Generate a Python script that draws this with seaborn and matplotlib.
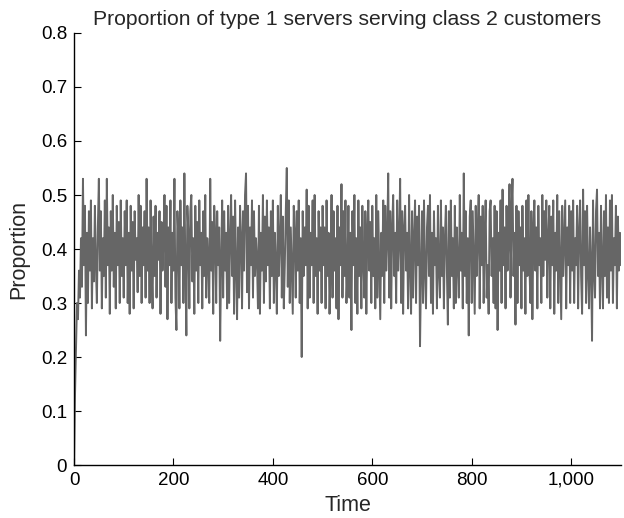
import numpy as np
import pandas as pd
import seaborn as sns
from matplotlib import pyplot as plt
from matplotlib.ticker import FuncFormatter, MultipleLocator

# proportion values, one every 2 time units (t = 0 .. 1100)
time_step = 2
proportion = [
    0.00, 0.13, 0.22, 0.30, 0.27, 0.36, 0.31, 0.42, 0.33, 0.53, 0.37, 0.48, 0.24, 0.43, 0.30, 0.47, 0.36, 0.49, 0.29, 0.42, 0.34, 0.48, 0.37, 0.30, 0.44,
    0.53, 0.36, 0.47, 0.29, 0.42, 0.35, 0.49, 0.31, 0.53, 0.37, 0.44, 0.28, 0.47, 0.36, 0.50, 0.33, 0.43, 0.29, 0.48, 0.37, 0.45, 0.30, 0.49, 0.35, 0.42,
    0.31, 0.47, 0.37, 0.49, 0.30, 0.43, 0.28, 0.48, 0.36, 0.45, 0.29, 0.47, 0.38, 0.42, 0.32, 0.50, 0.35, 0.48, 0.30, 0.44, 0.37, 0.47, 0.31, 0.53, 0.36,
    0.44, 0.30, 0.49, 0.37, 0.29, 0.46, 0.35, 0.48, 0.31, 0.43, 0.38, 0.47, 0.28, 0.45, 0.36, 0.42, 0.50, 0.33, 0.48, 0.27, 0.44, 0.37, 0.49, 0.30, 0.43,
    0.36, 0.53, 0.31, 0.25, 0.47, 0.42, 0.29, 0.49, 0.37, 0.44, 0.30, 0.54, 0.36, 0.24, 0.48, 0.43, 0.29, 0.47, 0.50, 0.34, 0.42, 0.28, 0.48, 0.36, 0.45,
    0.30, 0.49, 0.37, 0.43, 0.29, 0.47, 0.35, 0.50, 0.31, 0.42, 0.38, 0.30, 0.53, 0.36, 0.45, 0.28, 0.48, 0.43, 0.30, 0.47, 0.37, 0.44, 0.23, 0.38, 0.49,
    0.31, 0.47, 0.36, 0.43, 0.29, 0.48, 0.30, 0.42, 0.50, 0.35, 0.46, 0.28, 0.49, 0.37, 0.27, 0.44, 0.31, 0.48, 0.42, 0.29, 0.47, 0.36, 0.50, 0.54, 0.32,
    0.48, 0.29, 0.44, 0.37, 0.49, 0.31, 0.47, 0.35, 0.42, 0.38, 0.29, 0.48, 0.28, 0.43, 0.36, 0.50, 0.30, 0.46, 0.34, 0.49, 0.37, 0.44, 0.29, 0.47, 0.35,
    0.49, 0.30, 0.43, 0.37, 0.28, 0.48, 0.35, 0.42, 0.50, 0.31, 0.46, 0.29, 0.37, 0.47, 0.55, 0.33, 0.49, 0.30, 0.44, 0.36, 0.28, 0.48, 0.43, 0.31, 0.47,
    0.36, 0.49, 0.30, 0.42, 0.20, 0.47, 0.35, 0.44, 0.37, 0.51, 0.29, 0.48, 0.31, 0.43, 0.37, 0.49, 0.30, 0.50, 0.35, 0.42, 0.28, 0.47, 0.36, 0.44, 0.30,
    0.48, 0.37, 0.44, 0.29, 0.49, 0.35, 0.43, 0.28, 0.37, 0.50, 0.31, 0.47, 0.36, 0.42, 0.29, 0.48, 0.27, 0.44, 0.37, 0.52, 0.31, 0.47, 0.35, 0.49, 0.30,
    0.36, 0.48, 0.31, 0.43, 0.25, 0.47, 0.37, 0.50, 0.30, 0.42, 0.28, 0.49, 0.35, 0.44, 0.29, 0.48, 0.38, 0.31, 0.47, 0.28, 0.43, 0.49, 0.36, 0.45, 0.30,
    0.48, 0.35, 0.42, 0.29, 0.50, 0.31, 0.47, 0.37, 0.27, 0.43, 0.35, 0.49, 0.30, 0.48, 0.36, 0.42, 0.54, 0.31, 0.47, 0.29, 0.44, 0.50, 0.35, 0.43, 0.30,
    0.49, 0.36, 0.42, 0.53, 0.30, 0.47, 0.28, 0.44, 0.48, 0.36, 0.43, 0.29, 0.50, 0.37, 0.28, 0.47, 0.31, 0.42, 0.49, 0.30, 0.46, 0.37, 0.48, 0.22, 0.36,
    0.47, 0.30, 0.49, 0.36, 0.29, 0.44, 0.48, 0.35, 0.50, 0.30, 0.43, 0.28, 0.47, 0.37, 0.42, 0.29, 0.48, 0.36, 0.31, 0.49, 0.35, 0.44, 0.29, 0.42, 0.48,
    0.36, 0.26, 0.47, 0.31, 0.49, 0.35, 0.42, 0.29, 0.48, 0.30, 0.44, 0.37, 0.31, 0.50, 0.36, 0.43, 0.29, 0.54, 0.35, 0.47, 0.30, 0.42, 0.24, 0.46, 0.49,
    0.30, 0.47, 0.37, 0.28, 0.48, 0.35, 0.43, 0.50, 0.29, 0.46, 0.37, 0.48, 0.30, 0.42, 0.49, 0.31, 0.37, 0.28, 0.47, 0.49, 0.35, 0.42, 0.30, 0.48, 0.29,
    0.47, 0.25, 0.43, 0.36, 0.49, 0.30, 0.51, 0.37, 0.44, 0.29, 0.48, 0.36, 0.42, 0.52, 0.31, 0.47, 0.53, 0.35, 0.43, 0.26, 0.48, 0.30, 0.47, 0.37, 0.44,
    0.29, 0.48, 0.36, 0.42, 0.28, 0.49, 0.35, 0.50, 0.37, 0.30, 0.47, 0.27, 0.43, 0.49, 0.36, 0.44, 0.29, 0.48, 0.37, 0.42, 0.30, 0.50, 0.35, 0.47, 0.38,
    0.49, 0.31, 0.42, 0.48, 0.29, 0.46, 0.37, 0.49, 0.28, 0.43, 0.36, 0.50, 0.30, 0.47, 0.37, 0.27, 0.48, 0.35, 0.42, 0.49, 0.29, 0.44, 0.37, 0.48, 0.30,
    0.47, 0.36, 0.49, 0.30, 0.42, 0.37, 0.48, 0.29, 0.43, 0.49, 0.35, 0.28, 0.51, 0.37, 0.47, 0.30, 0.48, 0.36, 0.29, 0.44, 0.37, 0.23, 0.49, 0.36, 0.31,
    0.47, 0.51, 0.35, 0.43, 0.29, 0.48, 0.37, 0.29, 0.47, 0.35, 0.50, 0.31, 0.44, 0.30, 0.49, 0.36, 0.50, 0.30, 0.42, 0.37, 0.48, 0.29, 0.46, 0.36, 0.43,
    0.37,
]
time = np.arange(len(proportion)) * time_step

x_ticks = [0, 200, 400, 600, 800, 1000]

df = pd.DataFrame({"Time": time, "Proportion": proportion})

sns.set_style("ticks")
plt.rcParams["font.family"] = ["Liberation Sans", "DejaVu Sans"]

fig = plt.figure(figsize=(6.24, 5.18), dpi=100)
ax = fig.add_axes([0.1186, 0.1023, 0.8764, 0.834])

# the trace is dense enough that a slightly heavier line gives the solid band of the original
sns.lineplot(data=df, x="Time", y="Proportion", color="#666666", linewidth=1.4, ax=ax)

ax.set_xlim(0, 1100)
ax.set_ylim(0, 0.8)
ax.set_xticks(x_ticks)
ax.yaxis.set_major_locator(MultipleLocator(0.1))
ax.xaxis.set_major_formatter(FuncFormatter(lambda v, p: f"{v:,.0f}"))
ax.yaxis.set_major_formatter(FuncFormatter(lambda v, p: f"{v:g}"))
ax.tick_params(direction="in", length=5, width=0.8, labelsize=13.5, pad=5, colors="black")
for side in ["left", "bottom"]:
    ax.spines[side].set_linewidth(1.0)
    ax.spines[side].set_color("black")
sns.despine(ax=ax)

ax.set_xlabel("Time", fontsize=15.5, labelpad=4)
ax.set_ylabel("Proportion", fontsize=15.5, labelpad=8)
ax.set_title("Proportion of type 1 servers serving class 2 customers", fontsize=15.2, pad=6)

fig.savefig("out.png", dpi=100)
